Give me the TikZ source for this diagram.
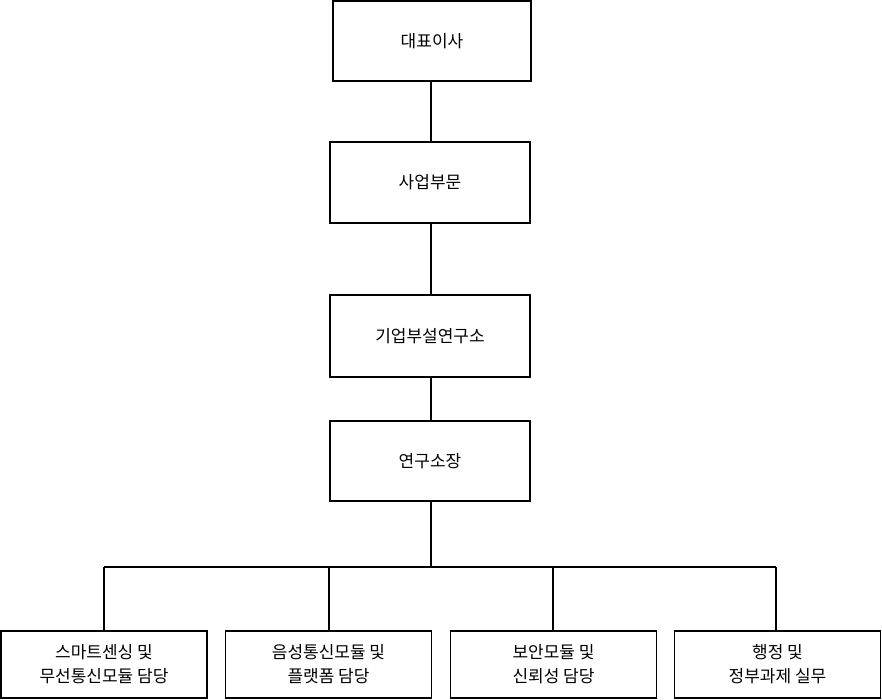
\documentclass[tikz,border=0pt]{standalone}
\usepackage{fontspec}
\setmainfont{Noto Sans CJK KR}
\begin{document}
\begin{tikzpicture}[x=1pt,y=-1pt,
  box/.style={draw,line width=1.3pt,inner sep=0pt,align=center,font=\fontsize{17}{24}\selectfont},
  ln/.style={line width=1.8pt}]
\useasboundingbox (0,0) rectangle (882,700);
\node[box,minimum width=198pt,minimum height=80pt] (a) at (432,41) {대표이사};
\node[box,minimum width=200pt,minimum height=81pt] (b) at (430,182.5) {사업부문};
\node[box,minimum width=200pt,minimum height=82pt] (c) at (430,336) {기업부설연구소};
\node[box,minimum width=200pt,minimum height=80pt] (d) at (430,461) {연구소장};
\node[box,minimum width=206pt,minimum height=67pt] (e1) at (104,664.5) {스마트센싱 및\\무선통신모듈 담당};
\node[box,minimum width=206pt,minimum height=67pt] (e2) at (328.5,664.5) {음성통신모듈 및\\플랫폼 담당};
\node[box,minimum width=206pt,minimum height=67pt] (e3) at (553.5,664.5) {보안모듈 및\\신뢰성 담당};
\node[box,minimum width=206pt,minimum height=67pt] (e4) at (777.5,664.5) {행정 및\\정부과제 실무};
\draw[ln] (431,81) -- (431,142);
\draw[ln] (431,223) -- (431,295);
\draw[ln] (431,377) -- (431,421);
\coordinate (j) at (431,567);
\draw[ln] (431,501) -- (j);
\draw[ln] (104,567) -- (776,567);
\draw[ln] (104,567) -- (e1.north -| 104,0);
\draw[ln] (329,567) -- (e2.north -| 329,0);
\draw[ln] (553,567) -- (e3.north -| 553,0);
\draw[ln] (776,567) -- (e4.north -| 776,0);
\end{tikzpicture}
\end{document}
